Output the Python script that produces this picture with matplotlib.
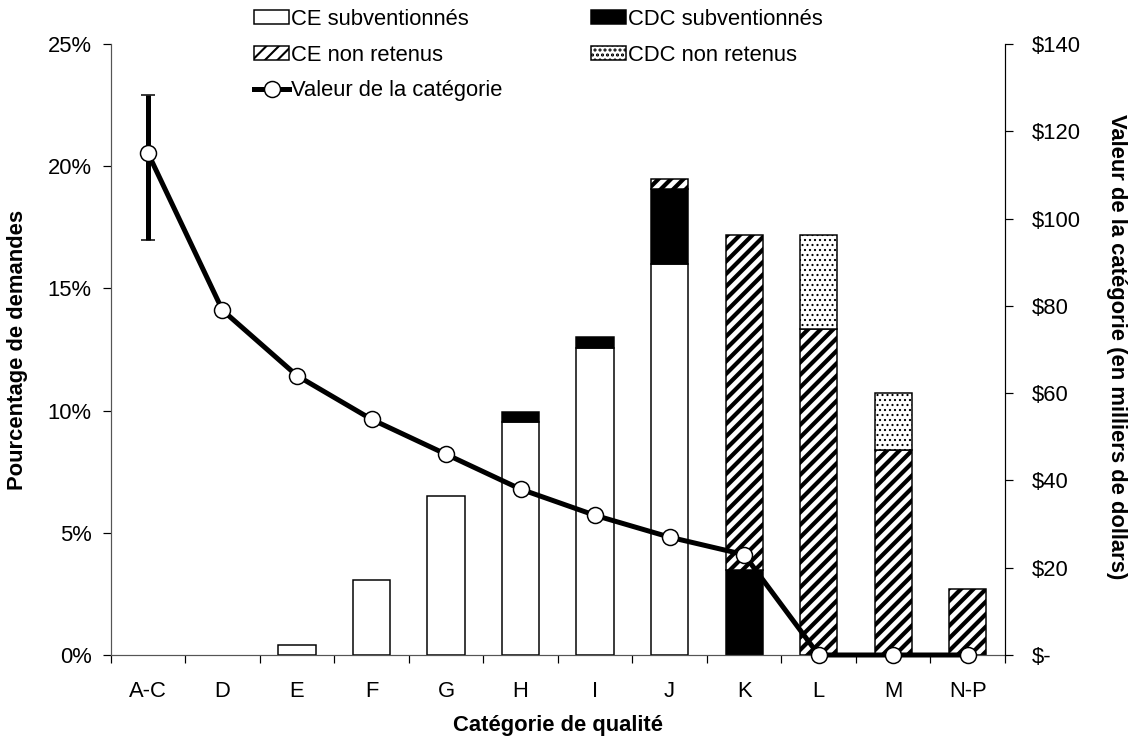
import matplotlib
matplotlib.use("Agg")
import matplotlib.pyplot as plt
import numpy as np
from matplotlib.patches import Patch
from matplotlib.lines import Line2D
from matplotlib.ticker import FuncFormatter, FixedLocator

plt.rcParams['font.family'] = ['Liberation Sans', 'DejaVu Sans']

categories = ['A-C', 'D', 'E', 'F', 'G', 'H', 'I', 'J', 'K', 'L', 'M', 'N-P']
ce_subventionnes = [0, 0, 0.4, 3.05, 6.5, 9.55, 12.58, 16.0, 0, 0, 0, 0]
cdc_subventionnes = [0, 0, 0, 0, 0, 0.4, 0.42, 3.07, 3.47, 0, 0, 0]
ce_non_retenus = [0, 0, 0, 0, 0, 0, 0, 0.41, 13.7, 13.34, 8.4, 2.7]
cdc_non_retenus = [0, 0, 0, 0, 0, 0, 0, 0, 0, 3.83, 2.3, 0]
valeur = [115, 79, 64, 54, 46, 38, 32, 27, 23, 0, 0, 0]
err_bas = [20, 0, 0, 0, 0, 0, 0, 0, 0, 0, 0, 0]
err_haut = [13.4, 0, 0, 0, 0, 0, 0, 0, 0, 0, 0, 0]

DPI = 150
PX = 72.0 / DPI  # points per pixel
W, H = 1136, 740
fig = plt.figure(figsize=(W / DPI, H / DPI), dpi=DPI)
L, R, T, B = 110.7, 1005, 44, 655
ax = fig.add_axes([L / W, 1 - B / H, (R - L) / W, (B - T) / H])
ax2 = ax.twinx()

FS = 22.0 * PX

x = np.arange(len(categories))
bw = 0.5
edge_lw = 1.5 * PX
HATCH_STRIPE = '////'
HATCH_DOTS = '.....'
STRIPE_LW = 4.2 * PX
DOT_LW = 1.2 * PX

def stacked(vals, bottom, **kw):
    hatch_lw = kw.pop('hatch_lw', 1.0)
    with plt.rc_context({'hatch.linewidth': hatch_lw, 'hatch.color': 'black'}):
        bars = ax.bar(x, vals, bw, bottom=bottom, edgecolor='black',
                      linewidth=edge_lw, zorder=2, **kw)
        for p, v in zip(bars.patches, vals):
            if hasattr(p, 'set_hatch_linewidth'):
                p.set_hatch_linewidth(hatch_lw)
            if v == 0:
                p.set_visible(False)
    return bars

b0 = np.zeros(len(x))
stacked(ce_subventionnes, b0, color='white')
b1 = b0 + np.array(ce_subventionnes)
stacked(cdc_subventionnes, b1, color='black')
b2 = b1 + np.array(cdc_subventionnes)
stacked(ce_non_retenus, b2, color='white', hatch=HATCH_STRIPE, hatch_lw=STRIPE_LW)
b3 = b2 + np.array(ce_non_retenus)
stacked(cdc_non_retenus, b3, color='white', hatch=HATCH_DOTS, hatch_lw=DOT_LW)

ax.set_xlim(-0.5, len(x) - 0.5)
ax.set_ylim(0, 25)
ax.set_yticks([0, 5, 10, 15, 20, 25])
ax.yaxis.set_major_formatter(FuncFormatter(lambda v, p: f"{v:.0f}%"))
ax.set_xticks(x)
ax.set_xticklabels(categories)
ax.xaxis.set_minor_locator(FixedLocator(np.arange(-0.5, len(x), 1.0)))
ax.tick_params(axis='x', which='major', length=0, pad=26 * PX, labelsize=FS)
ax.tick_params(axis='x', which='minor', length=8 * PX, width=1.2 * PX, direction='out')
ax.tick_params(axis='y', length=8 * PX, width=1.2 * PX, pad=11 * PX, labelsize=FS)

ax.spines['top'].set_visible(False)
ax2.spines['top'].set_visible(False)
ax.spines['right'].set_visible(False)
for s in ['left', 'bottom']:
    ax.spines[s].set_linewidth(1.2 * PX)
    ax.spines[s].set_color('#555555')
ax2.spines['right'].set_linewidth(1.2 * PX)
ax2.spines['left'].set_visible(False)
ax2.spines['bottom'].set_visible(False)

ax2.errorbar(x, valeur, yerr=[err_bas, err_haut], color='black',
             linewidth=5 * PX, marker='o', markersize=16 * PX,
             markerfacecolor='white', markeredgecolor='black',
             markeredgewidth=1.5 * PX, capsize=7 * PX, capthick=4 * PX,
             elinewidth=5 * PX, zorder=5, clip_on=False)
ax2.set_ylim(0, 140)
ax2.set_yticks([0, 20, 40, 60, 80, 100, 120, 140])
ax2.yaxis.set_major_formatter(FuncFormatter(lambda v, p: "$-" if v == 0 else f"${v:.0f}"))
ax2.tick_params(axis='y', length=8 * PX, width=1.2 * PX, pad=19 * PX, labelsize=FS)

fig.text(18 / W, 1 - 350 / H, "Pourcentage de demandes", rotation=90,
         ha='center', va='center', fontsize=FS, fontweight='bold')
fig.text(1117 / W, 1 - 347 / H, "Valeur de la catégorie (en milliers de dollars)",
         rotation=-90, ha='center', va='center', fontsize=FS, fontweight='bold')
fig.text((L + R) / 2 / W, 1 - 725 / H, "Catégorie de qualité",
         ha='center', va='center', fontsize=FS, fontweight='bold')

with plt.rc_context({'hatch.linewidth': STRIPE_LW}):
    h_ce_non = Patch(facecolor='white', edgecolor='black', hatch=HATCH_STRIPE, linewidth=edge_lw)
    if hasattr(h_ce_non, 'set_hatch_linewidth'):
        h_ce_non.set_hatch_linewidth(STRIPE_LW)
with plt.rc_context({'hatch.linewidth': DOT_LW}):
    h_cdc_non = Patch(facecolor='white', edgecolor='black', hatch=HATCH_DOTS, linewidth=edge_lw)
    if hasattr(h_cdc_non, 'set_hatch_linewidth'):
        h_cdc_non.set_hatch_linewidth(DOT_LW)
handles = [
    Patch(facecolor='white', edgecolor='black', linewidth=edge_lw),
    h_ce_non,
    Line2D([], [], color='black', linewidth=5 * PX, marker='o', markersize=16 * PX,
           markerfacecolor='white', markeredgecolor='black', markeredgewidth=1.5 * PX),
    Patch(facecolor='black', edgecolor='black', linewidth=edge_lw),
    h_cdc_non,
]
labels = ['CE subventionnés', 'CE non retenus', 'Valeur de la catégorie',
          'CDC subventionnés', 'CDC non retenus']
fig.legend(handles, labels, ncol=2, loc='upper left',
           bbox_to_anchor=(254 / W, 1 - 9 / H), frameon=False, fontsize=FS,
           handlelength=1.6, handleheight=0.6, handletextpad=0.1,
           columnspacing=4.0, labelspacing=0.67, borderpad=0, borderaxespad=0)

fig.savefig("out.png", dpi=DPI)
